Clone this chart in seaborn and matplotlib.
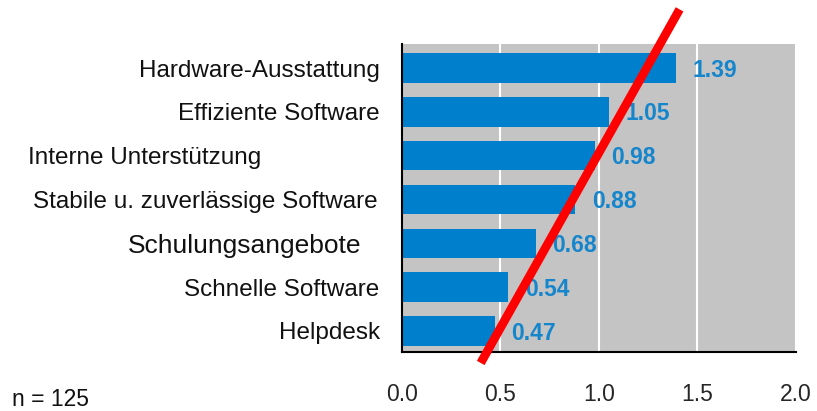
import numpy as np
import pandas as pd
import seaborn as sns
import matplotlib.pyplot as plt
from matplotlib.transforms import ScaledTranslation

# values
factors = ["Hardware-Ausstattung", "Effiziente Software", "Interne Unterstützung",
           "Stabile u. zuverlässige Software", "Schulungsangebote",
           "Schnelle Software", "Helpdesk"]
scores = [1.39, 1.05, 0.98, 0.88, 0.68, 0.54, 0.47]
xticks = [0.0, 0.5, 1.0, 1.5, 2.0]

# red stroke drawn over the bars (x in score units, y in category rows)
stroke_x = [0.40, 1.41]
stroke_y = [6.73, -1.34]

# small horizontal nudges of the category labels (pixels), as in the original slide
label_shift = [0, 0, -118, -2, -18, 0, 0]
label_size = [17.5, 17.5, 17.5, 17.5, 19, 17.5, 17.5]

df = pd.DataFrame({"factor": factors, "score": scores})

sns.set_theme(style="white")
plt.rcParams["font.family"] = ["Liberation Sans", "DejaVu Sans"]

fig = plt.figure(figsize=(8.17, 4.11), dpi=100)
ax = fig.add_axes([0.492, 0.1436, 0.482, 0.7494])

sns.barplot(data=df, x="score", y="factor", orient="h", color="#0080CC",
            saturation=1, width=0.67, linewidth=0, ax=ax)
ax.set_facecolor("#C4C4C4")

ax.set_xlim(0, 2.0)
ax.set_ylim(6.48, -0.55)
ax.set_xticks(xticks)
ax.set_xticklabels([f"{t:.1f}" for t in xticks], fontsize=16.5)
ax.xaxis.grid(True, color="white", linewidth=1.5)
ax.set_axisbelow(True)
ax.tick_params(axis="x", length=0, pad=22)
ax.tick_params(axis="y", length=0, pad=16)
ax.set_xlabel("")
ax.set_ylabel("")

for side in ["top", "right"]:
    ax.spines[side].set_visible(False)
for side in ["left", "bottom"]:
    ax.spines[side].set_color("black")
    ax.spines[side].set_linewidth(1.5)

for lab, dx, fs in zip(ax.get_yticklabels(), label_shift, label_size):
    lab.set_fontsize(fs)
    lab.set_color("#111111")
    lab.set_transform(lab.get_transform() + ScaledTranslation(dx / 100, 0, fig.dpi_scale_trans))

for i, v in enumerate(scores):
    ax.annotate(f"{v:.2f}", xy=(v, i), xytext=(12, -1.5), textcoords="offset points",
                va="center", ha="left", fontsize=16.5, fontweight="bold", color="#1585CC")

ax.plot(stroke_x, stroke_y, color="#FF0000", linewidth=6.3, solid_capstyle="butt",
        clip_on=False, zorder=5)

fig.text(0.015, 0.012, "n = 125", fontsize=16.5, color="#111111")

fig.savefig("out.png", dpi=100)
